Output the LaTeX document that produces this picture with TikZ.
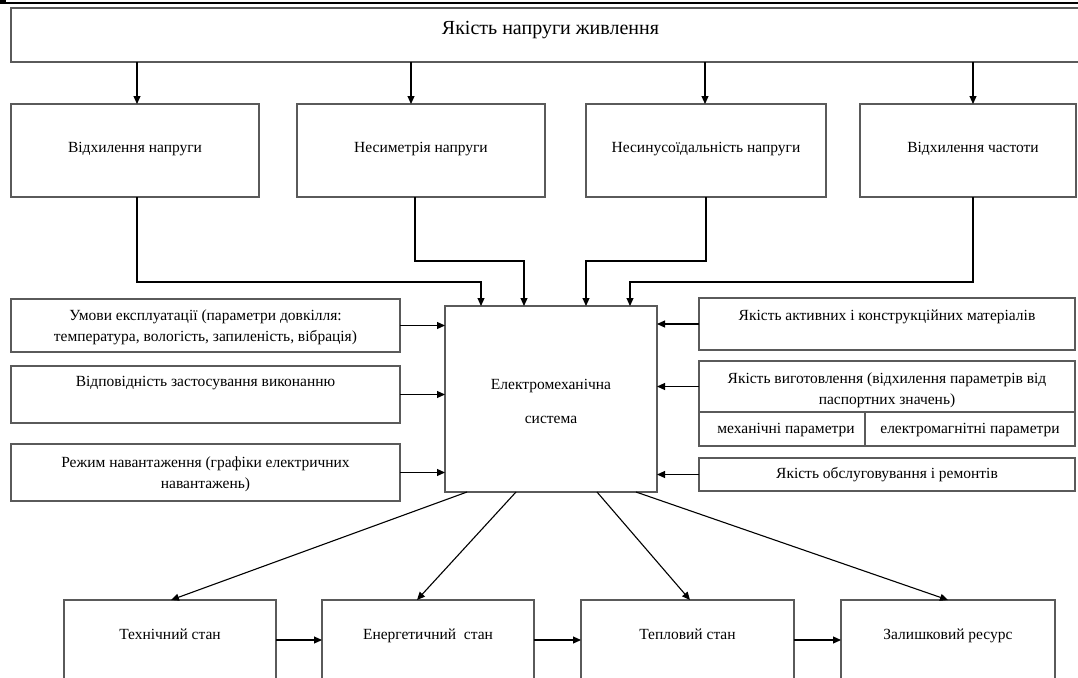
\documentclass[tikz,border=0pt]{standalone}
\usepackage{fontspec}
\setmainfont{Liberation Serif}
\usetikzlibrary{arrows.meta,calc}
\definecolor{boxgray}{HTML}{5A5A5A}
\begin{document}
\begin{tikzpicture}[x=1pt,y=-1pt,
  box/.style={draw=boxgray, line width=1.2pt, inner sep=0pt, outer sep=0pt},
  lbl/.style={font=\fontsize{15.5}{21}\selectfont, align=center, inner sep=0pt},
  lblone/.style={lbl, text height=11pt, text depth=3.5pt},
  arr/.style={draw=black, line width=1.1pt, -{Triangle[length=8pt,width=7pt]}},
  ]
\useasboundingbox (0,0) rectangle (1078,677);
\clip (0,0) rectangle (1078,677);

% page border artefacts
\fill[black] (0,0.5) rectangle (6,4.5);
\draw[black, line width=1.6pt] (0,2.8) -- (1078,2.8);

% top box
\node[box, minimum width=1079pt, minimum height=54pt,
  label={[lbl, font=\fontsize{20}{24}\selectfont, text height=14pt, text depth=4.5pt, yshift=5pt]center:Якість напруги живлення}] (top) at (550.5,35) {};

% second row
\node[box, minimum width=248pt, minimum height=93pt,
  label={[lblone, yshift=1.5pt]center:Відхилення напруги}] (b1) at (135,150.5) {};
\node[box, minimum width=248pt, minimum height=93pt,
  label={[lblone, yshift=1.5pt]center:Несиметрія напруги}] (b2) at (421,150.5) {};
\node[box, minimum width=240pt, minimum height=93pt,
  label={[lblone, yshift=1.5pt]center:Несинусоїдальність напруги}] (b3) at (706,150.5) {};
\node[box, minimum width=216pt, minimum height=93pt,
  label={[lblone, yshift=1.5pt, xshift=5pt]center:Відхилення частоти}] (b4) at (968,150.5) {};

% central box
\node[box, minimum width=212pt, minimum height=186pt,
  label={[lbl, font=\fontsize{15.5}{34}\selectfont, yshift=-2pt]center:{Електромеханічна\\система}}] (cb) at (551,399) {};

% left boxes
\node[box, minimum width=389pt, minimum height=53pt,
  label={[lbl, yshift=-2pt]center:{Умови експлуатації (параметри довкілля:\\температура, вологість, запиленість, вібрація)}}] (l1) at (205.5,325.5) {};
\node[box, minimum width=389pt, minimum height=57pt,
  label={[lblone, yshift=11.5pt]center:{Відповідність застосування виконанню}}] (l2) at (205.5,394.5) {};
\node[box, minimum width=389pt, minimum height=57pt,
  label={[lbl, yshift=-1.5pt]center:{Режим навантаження (графіки електричних\\навантажень)}}] (l3) at (205.5,472.5) {};

% right boxes
\node[box, minimum width=376pt, minimum height=52pt,
  label={[lblone, yshift=7.5pt]center:{Якість активних і конструкційних матеріалів}}] (r1) at (887,324) {};
\node[box, minimum width=376pt, minimum height=51pt,
  label={[lbl, yshift=-4pt]center:{Якість виготовлення (відхилення параметрів від\\паспортних значень)}}] (r2) at (887,386.5) {};
\node[box, minimum width=166pt, minimum height=34pt,
  label={[lblone, xshift=4pt, yshift=-1pt]center:{механічні параметри}}] (r2a) at (782,429) {};
\node[box, minimum width=210pt, minimum height=34pt,
  label={[lblone, yshift=-1pt]center:{електромагнітні параметри}}] (r2b) at (970,429) {};
\node[box, minimum width=376pt, minimum height=33pt,
  label={[lblone, yshift=-0.5pt]center:{Якість обслуговування і ремонтів}}] (r3) at (887,474.5) {};

% bottom row
\node[box, minimum width=212pt, minimum height=94pt,
  label={[lblone, yshift=11pt]center:Технічний стан}] (d1) at (170,647) {};
\node[box, minimum width=212pt, minimum height=94pt,
  label={[lblone, yshift=11pt]center:Енергетичний\ \ стан}] (d2) at (428,647) {};
\node[box, minimum width=213pt, minimum height=94pt,
  label={[lblone, yshift=11pt]center:Тепловий стан}] (d3) at (687.5,647) {};
\node[box, minimum width=214pt, minimum height=94pt,
  label={[lblone, yshift=11pt]center:Залишковий ресурс}] (d4) at (948,647) {};

% helper coordinates
\coordinate (xa) at (137,0);
\coordinate (xb) at (411,0);
\coordinate (xc) at (705,0);
\coordinate (xd) at (973,0);
\coordinate (fb) at (415,0);
\coordinate (fc) at (706,0);
\coordinate (ea) at (481,0);
\coordinate (eb) at (524,0);
\coordinate (ec) at (586,0);
\coordinate (ed) at (630,0);
\coordinate (ya) at (0,282);
\coordinate (yb) at (0,261);

% top arrows
\draw[arr] (xa |- top.south) -- (xa |- b1.north);
\draw[arr] (xb |- top.south) -- (xb |- b2.north);
\draw[arr] (xc |- top.south) -- (xc |- b3.north);
\draw[arr] (xd |- top.south) -- (xd |- b4.north);

% second row to central box
\draw[arr] (xa |- b1.south) -- (xa |- ya) -- (ea |- ya) -- (ea |- cb.north);
\draw[arr] (fb |- b2.south) -- (fb |- yb) -- (eb |- yb) -- (eb |- cb.north);
\draw[arr] (fc |- b3.south) -- (fc |- yb) -- (ec |- yb) -- (ec |- cb.north);
\draw[arr] (xd |- b4.south) -- (xd |- ya) -- (ed |- ya) -- (ed |- cb.north);

% side arrows
\draw[arr] (l1.east) -- (l1.east -| cb.west);
\draw[arr] (l2.east) -- (l2.east -| cb.west);
\draw[arr] (l3.east) -- (l3.east -| cb.west);
\draw[arr] (r1.west) -- (r1.west -| cb.east);
\draw[arr] (r2.west) -- (r2.west -| cb.east);
\draw[arr] (r3.west) -- (r3.west -| cb.east);

% central box to bottom row
\draw[arr] ([xshift=-84pt]cb.south) -- ([xshift=1pt]d1.north);
\draw[arr] ([xshift=-35pt]cb.south) -- ([xshift=-11pt]d2.north);
\draw[arr] ([xshift=46pt]cb.south) -- ([xshift=2.5pt]d3.north);
\draw[arr] ([xshift=85pt]cb.south) -- (d4.north);

% bottom chain
\draw[arr] ([yshift=7pt]d1.east) -- ([yshift=7pt]d2.west);
\draw[arr] ([yshift=7pt]d2.east) -- ([yshift=7pt]d3.west);
\draw[arr] ([yshift=7pt]d3.east) -- ([yshift=7pt]d4.west);
\end{tikzpicture}
\end{document}
